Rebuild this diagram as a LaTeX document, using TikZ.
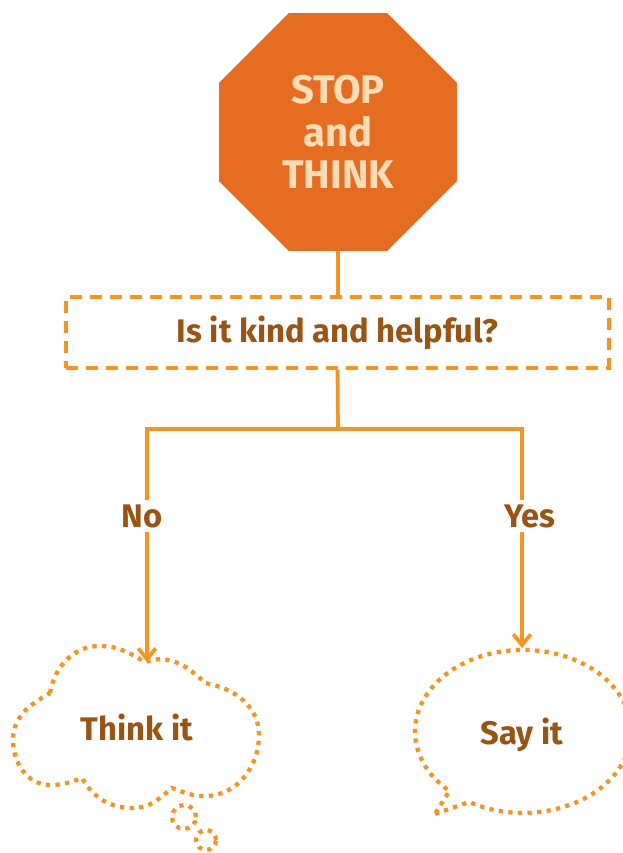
\documentclass[tikz,border=0pt]{standalone}
\usepackage{fontspec}
\setmainfont{Fira Sans}
\usetikzlibrary{shapes.geometric,arrows.meta}
\definecolor{stoporange}{HTML}{E66C22}
\definecolor{peach}{HTML}{FDDDB6}
\definecolor{lineorange}{HTML}{F7941D}
\definecolor{textbrown}{HTML}{9A5310}
\tikzset{
  link/.style={draw=lineorange,line width=2.8pt},
  dots/.style={draw=lineorange,line width=3.2pt,dash pattern=on 3.2pt off 4pt},
  btext/.style={text=textbrown,font=\bfseries\fontsize{24.5}{28}\selectfont}
}
\begin{document}
\begin{tikzpicture}[x=0.75pt,y=0.75pt]
\useasboundingbox (0,0) rectangle (622,853);
\node[regular polygon,regular polygon sides=8,minimum size=193pt,fill=stoporange,text=peach,align=center,font=\bfseries\fontsize{30}{32}\selectfont] (stop) at (338,721) {STOP\\and\\THINK};
\node[btext,draw=lineorange,line width=2.8pt,dash pattern=on 9pt off 6pt,minimum width=407pt,minimum height=53pt] (ask) at (337.5,520.5) {Is it kind and helpful?};
\coordinate (split) at (338,424);
\coordinate (thinktop) at (147,191);
\coordinate (saytop) at (522,205);
\draw[link] (stop.south) -- (stop.south |- ask.north);
\draw[link] (ask.south) -- (split);
\draw[link,-{Straight Barb[length=8pt,width=13pt]}] (split) -| (thinktop);
\draw[link,-{Straight Barb[length=8pt,width=13pt]}] (split) -| (saytop);
\node[btext,fill=white] (no) at (142,337) {No};
\node[btext,fill=white] (yes) at (530,337) {Yes};
\draw[dots] (50,160) to[out=80,in=180] (100,207) to[out=0,in=150] (145,191) to[out=20,in=135] (205,170) to[out=-10,in=90] (259,118) to[out=-90,in=0] (205,57) to[out=180,in=-20] (172,65) to[out=-140,in=0] (133,45) to[out=180,in=-60] (82,75) to[out=-160,in=0] (50,68) to[out=180,in=-90] (13,113) to[out=90,in=-150] (50,160);
\draw[dots] (184,36) circle[radius=12];
\draw[dots] (206,13) circle[radius=10];
\draw[dots] (435,39) -- (469,51) arc[start angle=240,end angle=587,x radius=108,y radius=81.5] -- cycle;
\node[btext] (think) at (137,125) {Think it};
\node[btext] (say) at (522,118) {Say it};
\end{tikzpicture}
\end{document}
